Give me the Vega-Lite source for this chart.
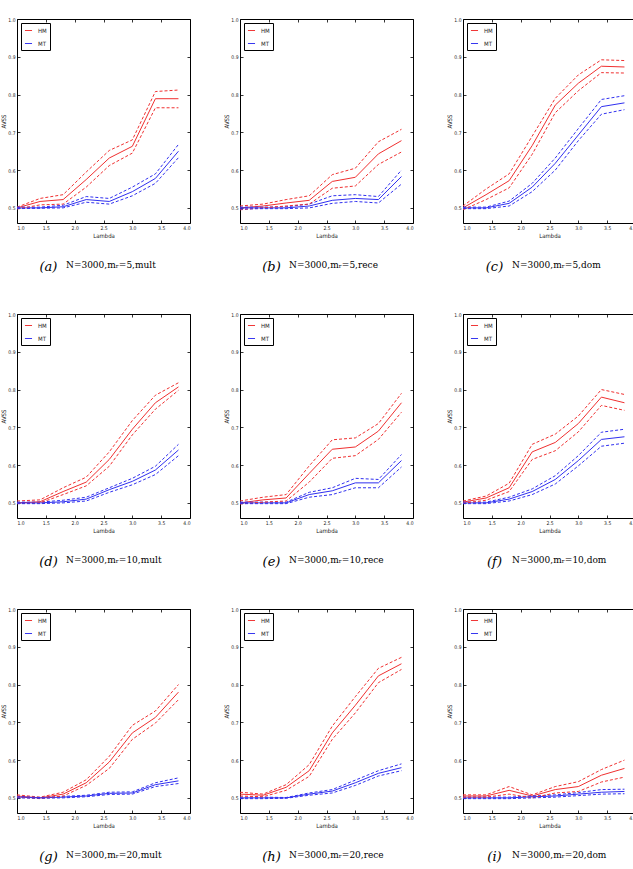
{
"$schema": "https://vega.github.io/schema/vega-lite/v6.json",
"padding": {"left": 0, "top": 16, "right": 0, "bottom": 0},
"background": "white",
"config": {
 "view": {"stroke": "black", "strokeWidth": 1},
 "axis": {"domain": false, "grid": false, "ticks": true, "tickSize": -3, "tickColor": "black", "tickWidth": 0.8, "labelFontSize": 5, "labelFont": "DejaVu Sans Condensed", "labelColor": "#222", "labelPadding": 5, "titleFontSize": 6, "titleFontWeight": "normal", "titleFont": "DejaVu Sans Condensed", "titleColor": "#222"},
 "axisX": {"tickCount": 7, "titlePadding": 2},
 "axisY": {"tickCount": 6, "titlePadding": 1},
 "legend": {"orient": "top-left", "offset": 4, "padding": 3, "strokeColor": "black", "fillColor": "white", "cornerRadius": 0, "symbolType": "stroke", "symbolSize": 50, "symbolStrokeWidth": 1, "symbolDash": [1, 0], "labelFontSize": 6, "labelFont": "DejaVu Sans Condensed", "labelColor": "#222", "rowPadding": 5, "labelOffset": 5},
 "title": {"font": "DejaVu Serif", "fontSize": 9, "fontWeight": "normal", "color": "black"}
},
"datasets": {"d": [
{"p":"a","m":"HM","x":1.0,"y":0.5,"hi":0.502,"lo":0.497},
{"p":"a","m":"HM","x":1.4,"y":0.517,"hi":0.525,"lo":0.508},
{"p":"a","m":"HM","x":1.8,"y":0.522,"hi":0.535,"lo":0.51},
{"p":"a","m":"HM","x":2.2,"y":0.575,"hi":0.595,"lo":0.555},
{"p":"a","m":"HM","x":2.6,"y":0.632,"hi":0.652,"lo":0.612},
{"p":"a","m":"HM","x":3.0,"y":0.663,"hi":0.68,"lo":0.645},
{"p":"a","m":"HM","x":3.4,"y":0.789,"hi":0.808,"lo":0.765},
{"p":"a","m":"HM","x":3.8,"y":0.789,"hi":0.812,"lo":0.765},
{"p":"a","m":"MT","x":1.0,"y":0.5,"hi":0.502,"lo":0.498},
{"p":"a","m":"MT","x":1.4,"y":0.5,"hi":0.502,"lo":0.499},
{"p":"a","m":"MT","x":1.8,"y":0.503,"hi":0.507,"lo":0.5},
{"p":"a","m":"MT","x":2.2,"y":0.522,"hi":0.53,"lo":0.515},
{"p":"a","m":"MT","x":2.6,"y":0.517,"hi":0.525,"lo":0.51},
{"p":"a","m":"MT","x":3.0,"y":0.543,"hi":0.555,"lo":0.532},
{"p":"a","m":"MT","x":3.4,"y":0.578,"hi":0.59,"lo":0.565},
{"p":"a","m":"MT","x":3.8,"y":0.65,"hi":0.668,"lo":0.633},
{"p":"b","m":"HM","x":1.0,"y":0.5,"hi":0.505,"lo":0.495},
{"p":"b","m":"HM","x":1.4,"y":0.505,"hi":0.51,"lo":0.5},
{"p":"b","m":"HM","x":1.8,"y":0.513,"hi":0.522,"lo":0.505},
{"p":"b","m":"HM","x":2.2,"y":0.52,"hi":0.532,"lo":0.51},
{"p":"b","m":"HM","x":2.6,"y":0.57,"hi":0.588,"lo":0.552},
{"p":"b","m":"HM","x":3.0,"y":0.581,"hi":0.605,"lo":0.558},
{"p":"b","m":"HM","x":3.4,"y":0.643,"hi":0.675,"lo":0.615},
{"p":"b","m":"HM","x":3.8,"y":0.678,"hi":0.708,"lo":0.648},
{"p":"b","m":"MT","x":1.0,"y":0.5,"hi":0.502,"lo":0.497},
{"p":"b","m":"MT","x":1.4,"y":0.5,"hi":0.502,"lo":0.498},
{"p":"b","m":"MT","x":1.8,"y":0.5,"hi":0.503,"lo":0.498},
{"p":"b","m":"MT","x":2.2,"y":0.505,"hi":0.51,"lo":0.5},
{"p":"b","m":"MT","x":2.6,"y":0.52,"hi":0.532,"lo":0.512},
{"p":"b","m":"MT","x":3.0,"y":0.525,"hi":0.535,"lo":0.517},
{"p":"b","m":"MT","x":3.4,"y":0.522,"hi":0.53,"lo":0.513},
{"p":"b","m":"MT","x":3.8,"y":0.583,"hi":0.6,"lo":0.563},
{"p":"c","m":"HM","x":1.0,"y":0.5,"hi":0.505,"lo":0.495},
{"p":"c","m":"HM","x":1.4,"y":0.535,"hi":0.55,"lo":0.522},
{"p":"c","m":"HM","x":1.8,"y":0.572,"hi":0.59,"lo":0.553},
{"p":"c","m":"HM","x":2.2,"y":0.665,"hi":0.69,"lo":0.642},
{"p":"c","m":"HM","x":2.6,"y":0.772,"hi":0.79,"lo":0.752},
{"p":"c","m":"HM","x":3.0,"y":0.83,"hi":0.852,"lo":0.81},
{"p":"c","m":"HM","x":3.4,"y":0.875,"hi":0.892,"lo":0.858},
{"p":"c","m":"HM","x":3.8,"y":0.873,"hi":0.89,"lo":0.857},
{"p":"c","m":"MT","x":1.0,"y":0.5,"hi":0.502,"lo":0.498},
{"p":"c","m":"MT","x":1.4,"y":0.5,"hi":0.502,"lo":0.498},
{"p":"c","m":"MT","x":1.8,"y":0.512,"hi":0.518,"lo":0.505},
{"p":"c","m":"MT","x":2.2,"y":0.555,"hi":0.565,"lo":0.543},
{"p":"c","m":"MT","x":2.6,"y":0.618,"hi":0.632,"lo":0.6},
{"p":"c","m":"MT","x":3.0,"y":0.693,"hi":0.71,"lo":0.678},
{"p":"c","m":"MT","x":3.4,"y":0.768,"hi":0.787,"lo":0.748},
{"p":"c","m":"MT","x":3.8,"y":0.778,"hi":0.797,"lo":0.76},
{"p":"d","m":"HM","x":1.0,"y":0.5,"hi":0.505,"lo":0.498},
{"p":"d","m":"HM","x":1.4,"y":0.503,"hi":0.508,"lo":0.5},
{"p":"d","m":"HM","x":1.8,"y":0.53,"hi":0.54,"lo":0.522},
{"p":"d","m":"HM","x":2.2,"y":0.555,"hi":0.568,"lo":0.545},
{"p":"d","m":"HM","x":2.6,"y":0.615,"hi":0.635,"lo":0.597},
{"p":"d","m":"HM","x":3.0,"y":0.695,"hi":0.718,"lo":0.68},
{"p":"d","m":"HM","x":3.4,"y":0.765,"hi":0.785,"lo":0.748},
{"p":"d","m":"HM","x":3.8,"y":0.807,"hi":0.818,"lo":0.798},
{"p":"d","m":"MT","x":1.0,"y":0.5,"hi":0.502,"lo":0.498},
{"p":"d","m":"MT","x":1.4,"y":0.5,"hi":0.502,"lo":0.498},
{"p":"d","m":"MT","x":1.8,"y":0.503,"hi":0.507,"lo":0.5},
{"p":"d","m":"MT","x":2.2,"y":0.51,"hi":0.515,"lo":0.505},
{"p":"d","m":"MT","x":2.6,"y":0.535,"hi":0.54,"lo":0.528},
{"p":"d","m":"MT","x":3.0,"y":0.557,"hi":0.565,"lo":0.548},
{"p":"d","m":"MT","x":3.4,"y":0.587,"hi":0.597,"lo":0.575},
{"p":"d","m":"MT","x":3.8,"y":0.64,"hi":0.655,"lo":0.625},
{"p":"e","m":"HM","x":1.0,"y":0.5,"hi":0.505,"lo":0.497},
{"p":"e","m":"HM","x":1.4,"y":0.508,"hi":0.515,"lo":0.502},
{"p":"e","m":"HM","x":1.8,"y":0.513,"hi":0.522,"lo":0.505},
{"p":"e","m":"HM","x":2.2,"y":0.578,"hi":0.598,"lo":0.555},
{"p":"e","m":"HM","x":2.6,"y":0.642,"hi":0.667,"lo":0.618},
{"p":"e","m":"HM","x":3.0,"y":0.648,"hi":0.672,"lo":0.625},
{"p":"e","m":"HM","x":3.4,"y":0.69,"hi":0.71,"lo":0.668},
{"p":"e","m":"HM","x":3.8,"y":0.765,"hi":0.79,"lo":0.74},
{"p":"e","m":"MT","x":1.0,"y":0.5,"hi":0.502,"lo":0.498},
{"p":"e","m":"MT","x":1.4,"y":0.5,"hi":0.502,"lo":0.498},
{"p":"e","m":"MT","x":1.8,"y":0.5,"hi":0.502,"lo":0.498},
{"p":"e","m":"MT","x":2.2,"y":0.522,"hi":0.528,"lo":0.515},
{"p":"e","m":"MT","x":2.6,"y":0.532,"hi":0.54,"lo":0.522},
{"p":"e","m":"MT","x":3.0,"y":0.553,"hi":0.565,"lo":0.54},
{"p":"e","m":"MT","x":3.4,"y":0.553,"hi":0.562,"lo":0.54},
{"p":"e","m":"MT","x":3.8,"y":0.612,"hi":0.628,"lo":0.595},
{"p":"f","m":"HM","x":1.0,"y":0.502,"hi":0.505,"lo":0.499},
{"p":"f","m":"HM","x":1.4,"y":0.513,"hi":0.518,"lo":0.507},
{"p":"f","m":"HM","x":1.8,"y":0.54,"hi":0.552,"lo":0.53},
{"p":"f","m":"HM","x":2.2,"y":0.635,"hi":0.655,"lo":0.615},
{"p":"f","m":"HM","x":2.6,"y":0.66,"hi":0.682,"lo":0.638},
{"p":"f","m":"HM","x":3.0,"y":0.71,"hi":0.73,"lo":0.688},
{"p":"f","m":"HM","x":3.4,"y":0.78,"hi":0.8,"lo":0.758},
{"p":"f","m":"HM","x":3.8,"y":0.765,"hi":0.787,"lo":0.745},
{"p":"f","m":"MT","x":1.0,"y":0.5,"hi":0.502,"lo":0.498},
{"p":"f","m":"MT","x":1.4,"y":0.5,"hi":0.502,"lo":0.498},
{"p":"f","m":"MT","x":1.8,"y":0.51,"hi":0.515,"lo":0.505},
{"p":"f","m":"MT","x":2.2,"y":0.53,"hi":0.537,"lo":0.522},
{"p":"f","m":"MT","x":2.6,"y":0.562,"hi":0.572,"lo":0.55},
{"p":"f","m":"MT","x":3.0,"y":0.612,"hi":0.625,"lo":0.598},
{"p":"f","m":"MT","x":3.4,"y":0.668,"hi":0.687,"lo":0.65},
{"p":"f","m":"MT","x":3.8,"y":0.675,"hi":0.695,"lo":0.658},
{"p":"g","m":"HM","x":1.0,"y":0.505,"hi":0.508,"lo":0.502},
{"p":"g","m":"HM","x":1.4,"y":0.5,"hi":0.502,"lo":0.498},
{"p":"g","m":"HM","x":1.8,"y":0.51,"hi":0.515,"lo":0.505},
{"p":"g","m":"HM","x":2.2,"y":0.54,"hi":0.548,"lo":0.533},
{"p":"g","m":"HM","x":2.6,"y":0.595,"hi":0.61,"lo":0.578},
{"p":"g","m":"HM","x":3.0,"y":0.672,"hi":0.692,"lo":0.655},
{"p":"g","m":"HM","x":3.4,"y":0.713,"hi":0.73,"lo":0.698},
{"p":"g","m":"HM","x":3.8,"y":0.78,"hi":0.8,"lo":0.76},
{"p":"g","m":"MT","x":1.0,"y":0.502,"hi":0.504,"lo":0.5},
{"p":"g","m":"MT","x":1.4,"y":0.5,"hi":0.501,"lo":0.499},
{"p":"g","m":"MT","x":1.8,"y":0.502,"hi":0.504,"lo":0.5},
{"p":"g","m":"MT","x":2.2,"y":0.505,"hi":0.507,"lo":0.503},
{"p":"g","m":"MT","x":2.6,"y":0.512,"hi":0.515,"lo":0.509},
{"p":"g","m":"MT","x":3.0,"y":0.513,"hi":0.516,"lo":0.51},
{"p":"g","m":"MT","x":3.4,"y":0.535,"hi":0.54,"lo":0.53},
{"p":"g","m":"MT","x":3.8,"y":0.545,"hi":0.553,"lo":0.538},
{"p":"h","m":"HM","x":1.0,"y":0.51,"hi":0.515,"lo":0.505},
{"p":"h","m":"HM","x":1.4,"y":0.507,"hi":0.51,"lo":0.503},
{"p":"h","m":"HM","x":1.8,"y":0.528,"hi":0.535,"lo":0.52},
{"p":"h","m":"HM","x":2.2,"y":0.572,"hi":0.588,"lo":0.557},
{"p":"h","m":"HM","x":2.6,"y":0.672,"hi":0.69,"lo":0.655},
{"p":"h","m":"HM","x":3.0,"y":0.745,"hi":0.768,"lo":0.725},
{"p":"h","m":"HM","x":3.4,"y":0.823,"hi":0.843,"lo":0.805},
{"p":"h","m":"HM","x":3.8,"y":0.855,"hi":0.872,"lo":0.84},
{"p":"h","m":"MT","x":1.0,"y":0.5,"hi":0.502,"lo":0.498},
{"p":"h","m":"MT","x":1.4,"y":0.5,"hi":0.502,"lo":0.498},
{"p":"h","m":"MT","x":1.8,"y":0.5,"hi":0.501,"lo":0.499},
{"p":"h","m":"MT","x":2.2,"y":0.51,"hi":0.513,"lo":0.507},
{"p":"h","m":"MT","x":2.6,"y":0.518,"hi":0.522,"lo":0.513},
{"p":"h","m":"MT","x":3.0,"y":0.54,"hi":0.547,"lo":0.533},
{"p":"h","m":"MT","x":3.4,"y":0.565,"hi":0.572,"lo":0.558},
{"p":"h","m":"MT","x":3.8,"y":0.58,"hi":0.59,"lo":0.572},
{"p":"i","m":"HM","x":1.0,"y":0.505,"hi":0.508,"lo":0.502},
{"p":"i","m":"HM","x":1.4,"y":0.505,"hi":0.508,"lo":0.502},
{"p":"i","m":"HM","x":1.8,"y":0.52,"hi":0.53,"lo":0.51},
{"p":"i","m":"HM","x":2.2,"y":0.505,"hi":0.508,"lo":0.5},
{"p":"i","m":"HM","x":2.6,"y":0.522,"hi":0.53,"lo":0.513},
{"p":"i","m":"HM","x":3.0,"y":0.53,"hi":0.543,"lo":0.517},
{"p":"i","m":"HM","x":3.4,"y":0.56,"hi":0.575,"lo":0.542},
{"p":"i","m":"HM","x":3.8,"y":0.578,"hi":0.6,"lo":0.555},
{"p":"i","m":"MT","x":1.0,"y":0.5,"hi":0.502,"lo":0.498},
{"p":"i","m":"MT","x":1.4,"y":0.5,"hi":0.502,"lo":0.498},
{"p":"i","m":"MT","x":1.8,"y":0.5,"hi":0.502,"lo":0.498},
{"p":"i","m":"MT","x":2.2,"y":0.503,"hi":0.505,"lo":0.5},
{"p":"i","m":"MT","x":2.6,"y":0.505,"hi":0.508,"lo":0.502},
{"p":"i","m":"MT","x":3.0,"y":0.51,"hi":0.514,"lo":0.506},
{"p":"i","m":"MT","x":3.4,"y":0.515,"hi":0.522,"lo":0.51},
{"p":"i","m":"MT","x":3.8,"y":0.517,"hi":0.523,"lo":0.511}
]},
"resolve": {"scale": {"color": "independent"}, "legend": {"color": "independent"}},
"bounds": "flush",
"columns": 3,
"spacing": {"row": 91, "column": 50},
"concat": [
{"width":173,"height":204,"data":{"name":"d"},"transform":[{"filter":"datum.p==='a'"}],
"title":{"text":"N=3000,mᵣ=5,mult","orient":"bottom","anchor":"start","frame":"group","dx":49,"offset":-12},
"encoding":{"color":{"field":"m","type":"nominal","scale":{"domain":["HM","MT"],"range":["#f03030","#3030f0"]},"legend":{"title":null}}},
"resolve":{"axis":{"x":"independent","y":"independent"}},
"layer":[
{"mark":{"type":"line","strokeWidth":1},"encoding":{"x":{"field":"x","type":"quantitative","scale":{"domain":[1,4]},"axis":{"title":"Lambda"}},"y":{"field":"y","type":"quantitative","scale":{"domain":[0.46,1]},"axis":{"title":"AVSS"}}}},
{"mark":{"type":"line","strokeWidth":1,"strokeDash":[3,2]},"encoding":{"x":{"field":"x","type":"quantitative","scale":{"domain":[1,4]},"axis":{"orient":"top","labels":false,"title":"(a)","titleX":31,"titleY":247,"titleFont":"DejaVu Serif","titleFontStyle":"italic","titleFontSize":13,"titleAlign":"center","titleBaseline":"middle","titleColor":"black"}},"y":{"field":"hi","type":"quantitative","scale":{"domain":[0.46,1]},"axis":null}}},
{"mark":{"type":"line","strokeWidth":1,"strokeDash":[3,2]},"encoding":{"x":{"field":"x","type":"quantitative","scale":{"domain":[1,4]},"axis":null},"y":{"field":"lo","type":"quantitative","scale":{"domain":[0.46,1]},"axis":{"orient":"right","labels":false,"title":null}}}}
]},
{"width":173,"height":204,"data":{"name":"d"},"transform":[{"filter":"datum.p==='b'"}],
"title":{"text":"N=3000,mᵣ=5,rece","orient":"bottom","anchor":"start","frame":"group","dx":49,"offset":-12},
"encoding":{"color":{"field":"m","type":"nominal","scale":{"domain":["HM","MT"],"range":["#f03030","#3030f0"]},"legend":{"title":null}}},
"resolve":{"axis":{"x":"independent","y":"independent"}},
"layer":[
{"mark":{"type":"line","strokeWidth":1},"encoding":{"x":{"field":"x","type":"quantitative","scale":{"domain":[1,4]},"axis":{"title":"Lambda"}},"y":{"field":"y","type":"quantitative","scale":{"domain":[0.46,1]},"axis":{"title":"AVSS"}}}},
{"mark":{"type":"line","strokeWidth":1,"strokeDash":[3,2]},"encoding":{"x":{"field":"x","type":"quantitative","scale":{"domain":[1,4]},"axis":{"orient":"top","labels":false,"title":"(b)","titleX":31,"titleY":247,"titleFont":"DejaVu Serif","titleFontStyle":"italic","titleFontSize":13,"titleAlign":"center","titleBaseline":"middle","titleColor":"black"}},"y":{"field":"hi","type":"quantitative","scale":{"domain":[0.46,1]},"axis":null}}},
{"mark":{"type":"line","strokeWidth":1,"strokeDash":[3,2]},"encoding":{"x":{"field":"x","type":"quantitative","scale":{"domain":[1,4]},"axis":null},"y":{"field":"lo","type":"quantitative","scale":{"domain":[0.46,1]},"axis":{"orient":"right","labels":false,"title":null}}}}
]},
{"width":173,"height":204,"data":{"name":"d"},"transform":[{"filter":"datum.p==='c'"}],
"title":{"text":"N=3000,mᵣ=5,dom","orient":"bottom","anchor":"start","frame":"group","dx":49,"offset":-12},
"encoding":{"color":{"field":"m","type":"nominal","scale":{"domain":["HM","MT"],"range":["#f03030","#3030f0"]},"legend":{"title":null}}},
"resolve":{"axis":{"x":"independent","y":"independent"}},
"layer":[
{"mark":{"type":"line","strokeWidth":1},"encoding":{"x":{"field":"x","type":"quantitative","scale":{"domain":[1,4]},"axis":{"title":"Lambda"}},"y":{"field":"y","type":"quantitative","scale":{"domain":[0.46,1]},"axis":{"title":"AVSS"}}}},
{"mark":{"type":"line","strokeWidth":1,"strokeDash":[3,2]},"encoding":{"x":{"field":"x","type":"quantitative","scale":{"domain":[1,4]},"axis":{"orient":"top","labels":false,"title":"(c)","titleX":31,"titleY":247,"titleFont":"DejaVu Serif","titleFontStyle":"italic","titleFontSize":13,"titleAlign":"center","titleBaseline":"middle","titleColor":"black"}},"y":{"field":"hi","type":"quantitative","scale":{"domain":[0.46,1]},"axis":null}}},
{"mark":{"type":"line","strokeWidth":1,"strokeDash":[3,2]},"encoding":{"x":{"field":"x","type":"quantitative","scale":{"domain":[1,4]},"axis":null},"y":{"field":"lo","type":"quantitative","scale":{"domain":[0.46,1]},"axis":{"orient":"right","labels":false,"title":null}}}}
]},
{"width":173,"height":204,"data":{"name":"d"},"transform":[{"filter":"datum.p==='d'"}],
"title":{"text":"N=3000,mᵣ=10,mult","orient":"bottom","anchor":"start","frame":"group","dx":49,"offset":-12},
"encoding":{"color":{"field":"m","type":"nominal","scale":{"domain":["HM","MT"],"range":["#f03030","#3030f0"]},"legend":{"title":null}}},
"resolve":{"axis":{"x":"independent","y":"independent"}},
"layer":[
{"mark":{"type":"line","strokeWidth":1},"encoding":{"x":{"field":"x","type":"quantitative","scale":{"domain":[1,4]},"axis":{"title":"Lambda"}},"y":{"field":"y","type":"quantitative","scale":{"domain":[0.46,1]},"axis":{"title":"AVSS"}}}},
{"mark":{"type":"line","strokeWidth":1,"strokeDash":[3,2]},"encoding":{"x":{"field":"x","type":"quantitative","scale":{"domain":[1,4]},"axis":{"orient":"top","labels":false,"title":"(d)","titleX":31,"titleY":247,"titleFont":"DejaVu Serif","titleFontStyle":"italic","titleFontSize":13,"titleAlign":"center","titleBaseline":"middle","titleColor":"black"}},"y":{"field":"hi","type":"quantitative","scale":{"domain":[0.46,1]},"axis":null}}},
{"mark":{"type":"line","strokeWidth":1,"strokeDash":[3,2]},"encoding":{"x":{"field":"x","type":"quantitative","scale":{"domain":[1,4]},"axis":null},"y":{"field":"lo","type":"quantitative","scale":{"domain":[0.46,1]},"axis":{"orient":"right","labels":false,"title":null}}}}
]},
{"width":173,"height":204,"data":{"name":"d"},"transform":[{"filter":"datum.p==='e'"}],
"title":{"text":"N=3000,mᵣ=10,rece","orient":"bottom","anchor":"start","frame":"group","dx":49,"offset":-12},
"encoding":{"color":{"field":"m","type":"nominal","scale":{"domain":["HM","MT"],"range":["#f03030","#3030f0"]},"legend":{"title":null}}},
"resolve":{"axis":{"x":"independent","y":"independent"}},
"layer":[
{"mark":{"type":"line","strokeWidth":1},"encoding":{"x":{"field":"x","type":"quantitative","scale":{"domain":[1,4]},"axis":{"title":"Lambda"}},"y":{"field":"y","type":"quantitative","scale":{"domain":[0.46,1]},"axis":{"title":"AVSS"}}}},
{"mark":{"type":"line","strokeWidth":1,"strokeDash":[3,2]},"encoding":{"x":{"field":"x","type":"quantitative","scale":{"domain":[1,4]},"axis":{"orient":"top","labels":false,"title":"(e)","titleX":31,"titleY":247,"titleFont":"DejaVu Serif","titleFontStyle":"italic","titleFontSize":13,"titleAlign":"center","titleBaseline":"middle","titleColor":"black"}},"y":{"field":"hi","type":"quantitative","scale":{"domain":[0.46,1]},"axis":null}}},
{"mark":{"type":"line","strokeWidth":1,"strokeDash":[3,2]},"encoding":{"x":{"field":"x","type":"quantitative","scale":{"domain":[1,4]},"axis":null},"y":{"field":"lo","type":"quantitative","scale":{"domain":[0.46,1]},"axis":{"orient":"right","labels":false,"title":null}}}}
]},
{"width":173,"height":204,"data":{"name":"d"},"transform":[{"filter":"datum.p==='f'"}],
"title":{"text":"N=3000,mᵣ=10,dom","orient":"bottom","anchor":"start","frame":"group","dx":49,"offset":-12},
"encoding":{"color":{"field":"m","type":"nominal","scale":{"domain":["HM","MT"],"range":["#f03030","#3030f0"]},"legend":{"title":null}}},
"resolve":{"axis":{"x":"independent","y":"independent"}},
"layer":[
{"mark":{"type":"line","strokeWidth":1},"encoding":{"x":{"field":"x","type":"quantitative","scale":{"domain":[1,4]},"axis":{"title":"Lambda"}},"y":{"field":"y","type":"quantitative","scale":{"domain":[0.46,1]},"axis":{"title":"AVSS"}}}},
{"mark":{"type":"line","strokeWidth":1,"strokeDash":[3,2]},"encoding":{"x":{"field":"x","type":"quantitative","scale":{"domain":[1,4]},"axis":{"orient":"top","labels":false,"title":"(f)","titleX":31,"titleY":247,"titleFont":"DejaVu Serif","titleFontStyle":"italic","titleFontSize":13,"titleAlign":"center","titleBaseline":"middle","titleColor":"black"}},"y":{"field":"hi","type":"quantitative","scale":{"domain":[0.46,1]},"axis":null}}},
{"mark":{"type":"line","strokeWidth":1,"strokeDash":[3,2]},"encoding":{"x":{"field":"x","type":"quantitative","scale":{"domain":[1,4]},"axis":null},"y":{"field":"lo","type":"quantitative","scale":{"domain":[0.46,1]},"axis":{"orient":"right","labels":false,"title":null}}}}
]},
{"width":173,"height":204,"data":{"name":"d"},"transform":[{"filter":"datum.p==='g'"}],
"title":{"text":"N=3000,mᵣ=20,mult","orient":"bottom","anchor":"start","frame":"group","dx":49,"offset":-12},
"encoding":{"color":{"field":"m","type":"nominal","scale":{"domain":["HM","MT"],"range":["#f03030","#3030f0"]},"legend":{"title":null}}},
"resolve":{"axis":{"x":"independent","y":"independent"}},
"layer":[
{"mark":{"type":"line","strokeWidth":1},"encoding":{"x":{"field":"x","type":"quantitative","scale":{"domain":[1,4]},"axis":{"title":"Lambda"}},"y":{"field":"y","type":"quantitative","scale":{"domain":[0.46,1]},"axis":{"title":"AVSS"}}}},
{"mark":{"type":"line","strokeWidth":1,"strokeDash":[3,2]},"encoding":{"x":{"field":"x","type":"quantitative","scale":{"domain":[1,4]},"axis":{"orient":"top","labels":false,"title":"(g)","titleX":31,"titleY":247,"titleFont":"DejaVu Serif","titleFontStyle":"italic","titleFontSize":13,"titleAlign":"center","titleBaseline":"middle","titleColor":"black"}},"y":{"field":"hi","type":"quantitative","scale":{"domain":[0.46,1]},"axis":null}}},
{"mark":{"type":"line","strokeWidth":1,"strokeDash":[3,2]},"encoding":{"x":{"field":"x","type":"quantitative","scale":{"domain":[1,4]},"axis":null},"y":{"field":"lo","type":"quantitative","scale":{"domain":[0.46,1]},"axis":{"orient":"right","labels":false,"title":null}}}}
]},
{"width":173,"height":204,"data":{"name":"d"},"transform":[{"filter":"datum.p==='h'"}],
"title":{"text":"N=3000,mᵣ=20,rece","orient":"bottom","anchor":"start","frame":"group","dx":49,"offset":-12},
"encoding":{"color":{"field":"m","type":"nominal","scale":{"domain":["HM","MT"],"range":["#f03030","#3030f0"]},"legend":{"title":null}}},
"resolve":{"axis":{"x":"independent","y":"independent"}},
"layer":[
{"mark":{"type":"line","strokeWidth":1},"encoding":{"x":{"field":"x","type":"quantitative","scale":{"domain":[1,4]},"axis":{"title":"Lambda"}},"y":{"field":"y","type":"quantitative","scale":{"domain":[0.46,1]},"axis":{"title":"AVSS"}}}},
{"mark":{"type":"line","strokeWidth":1,"strokeDash":[3,2]},"encoding":{"x":{"field":"x","type":"quantitative","scale":{"domain":[1,4]},"axis":{"orient":"top","labels":false,"title":"(h)","titleX":31,"titleY":247,"titleFont":"DejaVu Serif","titleFontStyle":"italic","titleFontSize":13,"titleAlign":"center","titleBaseline":"middle","titleColor":"black"}},"y":{"field":"hi","type":"quantitative","scale":{"domain":[0.46,1]},"axis":null}}},
{"mark":{"type":"line","strokeWidth":1,"strokeDash":[3,2]},"encoding":{"x":{"field":"x","type":"quantitative","scale":{"domain":[1,4]},"axis":null},"y":{"field":"lo","type":"quantitative","scale":{"domain":[0.46,1]},"axis":{"orient":"right","labels":false,"title":null}}}}
]},
{"width":173,"height":204,"data":{"name":"d"},"transform":[{"filter":"datum.p==='i'"}],
"title":{"text":"N=3000,mᵣ=20,dom","orient":"bottom","anchor":"start","frame":"group","dx":49,"offset":-12},
"encoding":{"color":{"field":"m","type":"nominal","scale":{"domain":["HM","MT"],"range":["#f03030","#3030f0"]},"legend":{"title":null}}},
"resolve":{"axis":{"x":"independent","y":"independent"}},
"layer":[
{"mark":{"type":"line","strokeWidth":1},"encoding":{"x":{"field":"x","type":"quantitative","scale":{"domain":[1,4]},"axis":{"title":"Lambda"}},"y":{"field":"y","type":"quantitative","scale":{"domain":[0.46,1]},"axis":{"title":"AVSS"}}}},
{"mark":{"type":"line","strokeWidth":1,"strokeDash":[3,2]},"encoding":{"x":{"field":"x","type":"quantitative","scale":{"domain":[1,4]},"axis":{"orient":"top","labels":false,"title":"(i)","titleX":31,"titleY":247,"titleFont":"DejaVu Serif","titleFontStyle":"italic","titleFontSize":13,"titleAlign":"center","titleBaseline":"middle","titleColor":"black"}},"y":{"field":"hi","type":"quantitative","scale":{"domain":[0.46,1]},"axis":null}}},
{"mark":{"type":"line","strokeWidth":1,"strokeDash":[3,2]},"encoding":{"x":{"field":"x","type":"quantitative","scale":{"domain":[1,4]},"axis":null},"y":{"field":"lo","type":"quantitative","scale":{"domain":[0.46,1]},"axis":{"orient":"right","labels":false,"title":null}}}}
]}
]
}
